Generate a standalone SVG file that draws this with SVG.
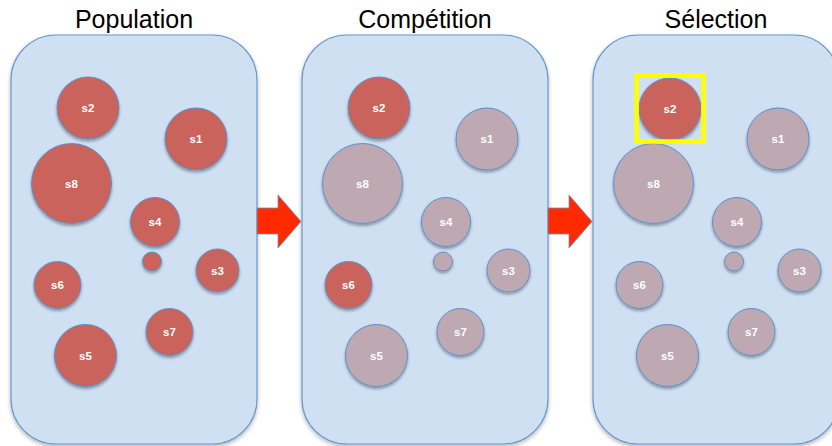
<svg xmlns="http://www.w3.org/2000/svg" width="832" height="446" viewBox="0 0 832 446">
<defs>
<style>
.title{font-family:"Liberation Sans",Arial,sans-serif;font-size:25px;fill:#000;text-anchor:middle}
.panel{fill:#cfe0f2;stroke:#6797cc;stroke-width:1.2}
.red{fill:#c9645c;stroke:#5b8fcf;stroke-width:1;filter:url(#sh)}
.gray{fill:#bea9b3;stroke:#5b8fcf;stroke-width:1;filter:url(#sh)}
.lbl{font-family:"Liberation Sans",Arial,sans-serif;font-size:11.5px;font-weight:bold;fill:#fff;text-anchor:middle}
.arrow{fill:#ff2a00;stroke:#6a8fc0;stroke-width:0.8}
</style>
<filter id="sh" x="-20%" y="-20%" width="140%" height="150%">
<feGaussianBlur in="SourceAlpha" stdDeviation="1.5"/>
<feOffset dx="0" dy="2" result="b"/>
<feComponentTransfer><feFuncA type="linear" slope="0.35"/></feComponentTransfer>
<feMerge><feMergeNode/><feMergeNode in="SourceGraphic"/></feMerge>
</filter>
<filter id="psh" x="-10%" y="-10%" width="120%" height="120%">
<feGaussianBlur in="SourceAlpha" stdDeviation="2"/>
<feOffset dx="0" dy="2"/>
<feComponentTransfer><feFuncA type="linear" slope="0.3"/></feComponentTransfer>
<feMerge><feMergeNode/><feMergeNode in="SourceGraphic"/></feMerge>
</filter>
</defs>
<rect width="832" height="446" fill="#fff"/>

<g id="population">
<text class="title" x="134" y="28">Population</text>
<rect class="panel" x="11" y="35" width="246" height="409" rx="45" ry="45" filter="url(#psh)"/>
<g id="p1-s2"><circle class="red" cx="88" cy="108" r="31"/><text class="lbl" x="88" y="112">s2</text></g>
<g id="p1-s1"><circle class="red" cx="196" cy="139" r="31"/><text class="lbl" x="196" y="143">s1</text></g>
<g id="p1-s8"><circle class="red" cx="71.5" cy="183.5" r="40"/><text class="lbl" x="71.5" y="188">s8</text></g>
<g id="p1-s4"><circle class="red" cx="155" cy="222" r="24.5"/><text class="lbl" x="155" y="226">s4</text></g>
<g id="p1-dot"><circle class="red" cx="152" cy="261.5" r="9.5"/></g>
<g id="p1-s3"><circle class="red" cx="217.5" cy="270.5" r="21.5"/><text class="lbl" x="217.5" y="274.5">s3</text></g>
<g id="p1-s6"><circle class="red" cx="57.5" cy="285" r="23.5"/><text class="lbl" x="57.5" y="289">s6</text></g>
<g id="p1-s7"><circle class="red" cx="169.5" cy="332" r="23.5"/><text class="lbl" x="169.5" y="336">s7</text></g>
<g id="p1-s5"><circle class="red" cx="85.5" cy="355.5" r="31"/><text class="lbl" x="85.5" y="359.5">s5</text></g>
</g>

<g id="competition">
<text class="title" x="425" y="28">Compétition</text>
<rect class="panel" x="302" y="35" width="246" height="409" rx="45" ry="45" filter="url(#psh)"/>
<g id="p2-s2"><circle class="red" cx="379" cy="108" r="31"/><text class="lbl" x="379" y="112">s2</text></g>
<g id="p2-s1"><circle class="gray" cx="487" cy="139" r="31"/><text class="lbl" x="487" y="143">s1</text></g>
<g id="p2-s8"><circle class="gray" cx="362.5" cy="183.5" r="40"/><text class="lbl" x="362.5" y="188">s8</text></g>
<g id="p2-s4"><circle class="gray" cx="446" cy="222" r="24.5"/><text class="lbl" x="446" y="226">s4</text></g>
<g id="p2-dot"><circle class="gray" cx="443" cy="261.5" r="9.5"/></g>
<g id="p2-s3"><circle class="gray" cx="508.5" cy="270.5" r="21.5"/><text class="lbl" x="508.5" y="274.5">s3</text></g>
<g id="p2-s6"><circle class="red" cx="348.5" cy="285" r="23.5"/><text class="lbl" x="348.5" y="289">s6</text></g>
<g id="p2-s7"><circle class="gray" cx="460.5" cy="332" r="23.5"/><text class="lbl" x="460.5" y="336">s7</text></g>
<g id="p2-s5"><circle class="gray" cx="376.5" cy="355.5" r="31"/><text class="lbl" x="376.5" y="359.5">s5</text></g>
</g>

<g id="selection">
<text class="title" x="716" y="28">Sélection</text>
<rect class="panel" x="593" y="35" width="246" height="409" rx="45" ry="45" filter="url(#psh)"/>
<g id="p3-s2"><circle class="red" cx="670" cy="109" r="31"/><text class="lbl" x="670" y="113">s2</text></g>
<g id="p3-s1"><circle class="gray" cx="778" cy="139" r="31"/><text class="lbl" x="778" y="143">s1</text></g>
<g id="p3-s8"><circle class="gray" cx="653.5" cy="183.5" r="40"/><text class="lbl" x="653.5" y="188">s8</text></g>
<g id="p3-s4"><circle class="gray" cx="737" cy="222" r="24.5"/><text class="lbl" x="737" y="226">s4</text></g>
<g id="p3-dot"><circle class="gray" cx="734" cy="261.5" r="9.5"/></g>
<g id="p3-s3"><circle class="gray" cx="799.5" cy="270.5" r="21.5"/><text class="lbl" x="799.5" y="274.5">s3</text></g>
<g id="p3-s6"><circle class="gray" cx="639.5" cy="285" r="23.5"/><text class="lbl" x="639.5" y="289">s6</text></g>
<g id="p3-s7"><circle class="gray" cx="751.5" cy="332" r="23.5"/><text class="lbl" x="751.5" y="336">s7</text></g>
<g id="p3-s5"><circle class="gray" cx="667.5" cy="355.5" r="31"/><text class="lbl" x="667.5" y="359.5">s5</text></g>
<rect id="highlight" x="636.5" y="75.5" width="67" height="66" fill="none" stroke="#ffff00" stroke-width="4.5"/>
</g>

<g id="connectors">
<path class="arrow" d="M257,208 H278 V195 L301,221.5 L278,248 V234 H257 Z"/>
<path class="arrow" d="M548,208 H569 V195 L592,221.5 L569,248 V234 H548 Z"/>
</g>
</svg>
